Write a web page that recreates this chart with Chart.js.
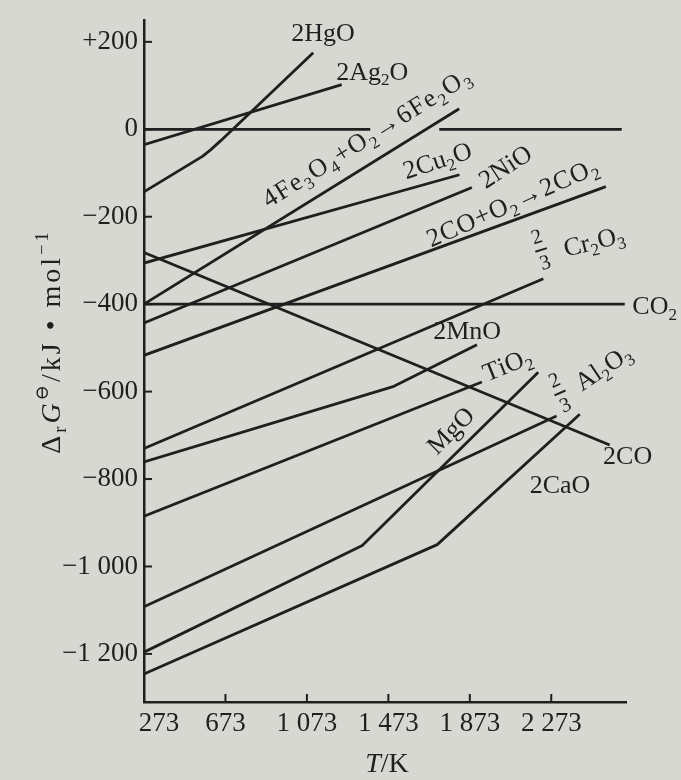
<!DOCTYPE html>
<html>
<head>
<meta charset="utf-8">
<script src="https://cdn.jsdelivr.net/npm/chart.js@4.4.1/dist/chart.umd.min.js"></script>
<style>
  html, body { margin: 0; padding: 0; background: #d8d8d3; }
  canvas { display: block; }
</style>
</head>
<body>
<canvas id="chart" width="681" height="780"></canvas>
<script>
// temperature (K) and ΔrG° (kJ/mol)
const tTicks = [273, 673, 1073, 1473, 1873, 2273];
const tTickLabels = ["273", "673", "1 073", "1 473", "1 873", "2 273"];
const gTicks = [200, 0, -200, -400, -600, -800, -1000, -1200];
const gTickLabels = ["+200", "0", "−200", "−400", "−600", "−800", "−1 000", "−1 200"];

const zeroT = [273, 1384, 1550, 1723, 2619];
const zeroG = [0, 0, null, 0, 0];
const hgoT = [273, 560, 600, 650, 1104];
const hgoG = [-143, -62, -47, -26, 175];
const ag2oT = [273, 1244];
const ag2oG = [-35, 102];
const fe2o3T = [273, 1821];
const fe2o3G = [-400, 47];
const cu2oT = [273, 1822];
const cu2oG = [-306, -104];
const nioT = [273, 1883];
const nioG = [-443, -133];
const co2FromCoT = [273, 2541];
const co2FromCoG = [-517, -131];
const cr2o3T = [273, 2234];
const cr2o3G = [-730, -342];
const co2T = [273, 2634];
const co2G = [-400, -400];
const coT = [273, 2560];
const coG = [-282, -722];
const mnoT = [273, 1500, 1908];
const mnoG = [-761, -588, -493];
const tio2T = [273, 1932];
const tio2G = [-885, -578];
const mgoT = [273, 1345, 2209];
const mgoG = [-1196, -952, -556];
const al2o3T = [273, 2299];
const al2o3G = [-1092, -656];
const caoT = [273, 1713, 2413];
const caoG = [-1246, -950, -652];

const series = [
  [zeroT, zeroG], [hgoT, hgoG], [ag2oT, ag2oG], [fe2o3T, fe2o3G], [cu2oT, cu2oG],
  [nioT, nioG], [co2FromCoT, co2FromCoG], [cr2o3T, cr2o3G], [co2T, co2G], [coT, coG],
  [mnoT, mnoG], [tio2T, tio2G], [mgoT, mgoG], [al2o3T, al2o3G], [caoT, caoG]
];

// _ = subscript next char, ^ = superscript next char, * = italic next char
const annotations = [
  { text: "2HgO", t: 1152, g: 222, rot: 0 },
  { text: "2Ag_2O", t: 1394, g: 134, rot: 0 },
  { text: "4Fe_3O_4+O_2→6Fe_2O_3", t: 1363, g: -18, rot: -32, gap: 1.5 },
  { text: "2Cu_2O", t: 1713, g: -70, rot: -18 },
  { text: "2NiO", t: 2046, g: -84, rot: -33 },
  { text: "2CO+O_2→2CO_2", t: 2080, g: -166, rot: -24, gap: 1 },
  { frac: true, t: 2223, g: -276, rot: -18 },
  { text: "Cr_2O_3", t: 2482, g: -255, rot: -14 },
  { text: "CO_2", t: 2781, g: -403, rot: 0 },
  { text: "2MnO", t: 1860, g: -460, rot: 0 },
  { text: "TiO_2", t: 2056, g: -537, rot: -22 },
  { text: "MgO", t: 1777, g: -688, rot: -45 },
  { frac: true, t: 2316, g: -603, rot: -24 },
  { text: "Al_2O_3", t: 2526, g: -544, rot: -34 },
  { text: "2CO", t: 2648, g: -746, rot: 0 },
  { text: "2CaO", t: 2316, g: -812, rot: 0 }
];

const INK = "#1f1f1f";
const FONT = "\"Liberation Serif\", \"DejaVu Serif\", serif";

function parseRich(str) {
  const out = [];
  let mode = "n";
  for (const ch of str) {
    if (ch === "_" || ch === "^" || ch === "*") { mode = ch; continue; }
    out.push({ ch, kind: mode === "_" ? "sub" : mode === "^" ? "sup" : "n", italic: mode === "*" });
    mode = "n";
  }
  return out;
}

function fontFor(seg, size) {
  const s = seg.kind === "n" ? size : size * 0.66;
  return (seg.italic ? "italic " : "") + s + "px " + FONT;
}

function drawRich(ctx, str, x, y, size, deg, gap = 0) {
  const segs = parseRich(str);
  let w = 0;
  segs.forEach((s) => { ctx.font = fontFor(s, size); s.w = ctx.measureText(s.ch).width + gap; w += s.w; });
  w -= gap;
  ctx.save();
  ctx.translate(x, y);
  ctx.rotate(deg * Math.PI / 180);
  ctx.textBaseline = "alphabetic";
  ctx.textAlign = "left";
  let cx = -w / 2;
  const base = size * 0.34;
  segs.forEach((s) => {
    ctx.font = fontFor(s, size);
    const dy = s.kind === "sub" ? size * 0.22 : s.kind === "sup" ? -size * 0.42 : 0;
    ctx.fillText(s.ch, cx, base + dy);
    cx += s.w;
  });
  ctx.restore();
}

function drawFrac(ctx, x, y, size, deg) {
  ctx.save();
  ctx.translate(x, y);
  ctx.rotate(deg * Math.PI / 180);
  ctx.font = size * 0.8 + "px " + FONT;
  ctx.textAlign = "center";
  ctx.textBaseline = "middle";
  ctx.fillText("2", 0, -size * 0.5);
  ctx.fillText("3", 0, size * 0.55);
  ctx.fillRect(-6, -1, 12, 2);
  ctx.restore();
}

const paper = {
  id: "paper",
  beforeDraw(chart) {
    const { ctx, width, height } = chart;
    ctx.save();
    ctx.fillStyle = "#d8d8d3";
    ctx.fillRect(0, 0, width, height);
    ctx.restore();
  }
};

const axisText = {
  id: "axisText",
  afterDraw(chart) {
    const { ctx, chartArea: a, scales: { x, y } } = chart;
    ctx.save();
    ctx.fillStyle = INK;
    ctx.strokeStyle = INK;
    ctx.lineWidth = 2;
    ctx.font = "27px " + FONT;

    tTicks.forEach((t, i) => {
      const px = x.getPixelForValue(t);
      ctx.beginPath();
      ctx.moveTo(px, a.bottom);
      ctx.lineTo(px, a.bottom - 8);
      ctx.stroke();
      ctx.textAlign = "center";
      ctx.textBaseline = "middle";
      ctx.fillText(tTickLabels[i], px + (i === 0 ? 15 : 0), a.bottom + 22);
    });

    gTicks.forEach((g, i) => {
      const py = y.getPixelForValue(g);
      ctx.beginPath();
      ctx.moveTo(a.left, py);
      ctx.lineTo(a.left + 8, py);
      ctx.stroke();
      ctx.textAlign = "right";
      ctx.textBaseline = "middle";
      ctx.fillText(gTickLabels[i], a.left - 6, py);
    });

    annotations.forEach((n) => {
      const px = x.getPixelForValue(n.t);
      const py = y.getPixelForValue(n.g);
      if (n.frac) drawFrac(ctx, px, py, 26, n.rot);
      else drawRich(ctx, n.text, px, py, 26, n.rot, n.gap || 0);
    });

    drawRich(ctx, "*T/K", (a.left + a.right) / 2 + 2, a.bottom + 60, 28, 0);
    drawRich(ctx, "Δ_r*G^⊖/kJ • mol^−^1", 50, 343, 28, -90, 3);
    ctx.restore();
  }
};

const datasets = series.map(([ts, gs]) => ({
  data: ts.map((t, i) => ({ x: t, y: gs[i] })),
  borderColor: INK,
  borderWidth: 2.8,
  borderJoinStyle: "round",
  pointRadius: 0,
  tension: 0,
  spanGaps: false
}));

new Chart(document.getElementById("chart"), {
  type: "line",
  data: { datasets },
  options: {
    responsive: false,
    animation: false,
    devicePixelRatio: 1,
    layout: { padding: { top: 20, right: 55, left: 0, bottom: 0 } },
    plugins: { legend: { display: false }, tooltip: { enabled: false } },
    scales: {
      x: {
        type: "linear", min: 273, max: 2640,
        grid: { display: false },
        border: { display: true, color: INK, width: 2.5 },
        ticks: { display: false },
        afterFit(s) { s.height = 78; }
      },
      y: {
        type: "linear", min: -1310, max: 250,
        grid: { display: false },
        border: { display: true, color: INK, width: 2.5 },
        ticks: { display: false },
        afterFit(s) { s.width = 144; }
      }
    }
  },
  plugins: [paper, axisText]
});
</script>
</body>
</html>
